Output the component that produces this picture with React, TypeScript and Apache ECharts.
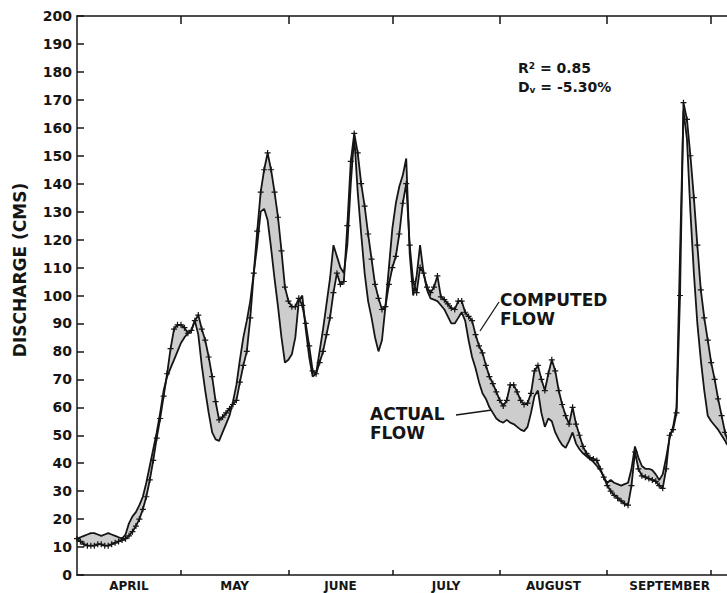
import React, { useEffect, useRef } from "react";
import * as echarts from "echarts";

// Month layout (days counted from April 1)
const monthNames = ["APRIL", "MAY", "JUNE", "JULY", "AUGUST", "SEPTEMBER"];
const monthStartDays = [30, 61, 91, 122, 153, 183];
const monthLabelDays = [15, 45.5, 76, 106.5, 137.5, 171];

// Daily discharge (CMS), April 1 onwards
const actualFlow = [
  13, 13.5, 14, 14.5, 15, 15, 14.5, 14, 14.5, 15,
  14.5, 14, 13.5, 13, 14.5, 18.5, 21, 22.5, 25, 28,
  33, 39, 45, 51, 58, 66, 71, 74, 77, 80,
  83, 85, 86.5, 87.5, 91, 86, 75, 66, 58, 51,
  48.5, 48, 51, 54, 57, 62, 68, 77, 85, 91,
  98, 108, 118, 130, 131, 127, 117, 106, 96, 85,
  76, 77, 79, 85, 98, 100, 88, 78, 71, 72,
  80, 88, 97, 106, 118, 114, 110, 108, 118, 140,
  157, 137, 122, 108, 98, 92, 85, 80, 84, 96,
  110, 124, 133, 139, 143, 149, 115, 100, 107, 118,
  108, 102, 99, 98.5, 98, 96.5, 95, 92.5, 90, 90,
  92, 94, 91, 84, 78, 74, 69, 65, 63, 60,
  58, 56, 55, 54.5, 55.5, 54.5, 54, 53, 52, 51.5,
  53, 58, 64, 66, 58, 53, 56, 55, 51, 48.5,
  46.5, 45.5, 48, 51, 47, 45, 43.5, 42.5, 41.5, 40.5,
  39, 37.5, 35, 33, 34, 33, 32.5, 32, 32.5, 33,
  38, 46, 42, 39, 38, 38, 37.5, 36, 34, 36,
  42, 49, 53, 60, 115, 166, 156, 130, 108, 90,
  77, 66, 57, 55, 53.5, 52, 50, 48, 46,
];

const computedFlow = [
  13, 12, 11, 10.5, 10.5, 10.5, 11, 11, 10.5, 10.5,
  11, 11.5, 12, 12.5, 13, 14, 15.5, 17.5, 20, 23.5,
  28, 34, 41, 49, 56, 64, 72, 81, 88, 89.5,
  89.5, 88.5, 86.5, 87.5, 91, 93, 88, 84, 78, 71,
  62, 55.5, 56.5, 58, 59.5, 61, 62.5, 69, 75, 80,
  92, 108, 123, 137, 145, 151, 145, 137, 128, 116,
  103, 98, 96, 96, 99, 96.5, 90, 82, 73, 72,
  76, 80, 86, 92, 101, 108, 104, 105, 125, 148,
  158, 151, 140, 132, 122, 113, 104, 99, 95, 96,
  104, 110, 114, 122, 133, 140, 118, 105, 101, 110,
  108, 103, 101, 103, 107, 99.5, 98.5, 97, 95.5, 95,
  98, 98, 94, 92.5, 91, 86, 82, 79.5, 75, 71,
  68.5, 65.5, 62.5, 60.5, 62.5, 68, 68, 65.5, 62.5, 61,
  61.5, 65, 73, 75, 70, 66, 72, 77, 73, 66,
  61, 57, 54, 60, 54, 50, 46, 43.5, 42, 41.5,
  41, 38, 35, 32, 30, 28.5, 27.5, 26.5, 25.5, 25,
  32, 44, 38, 35.5, 35, 34.5, 34, 33.5, 32, 31,
  38, 50, 52, 58, 100, 169, 163, 150, 135, 118,
  102, 92, 84, 76, 70, 63, 57, 51, 47,
];

const FONT = '"DejaVu Sans", "Liberation Sans", sans-serif';
const INK = "#151515";

export default function App() {
  const ref = useRef<HTMLDivElement>(null);

  useEffect(() => {
    const chart = echarts.init(ref.current!, null, { renderer: "svg" });
    const toPairs = (arr: number[]) => arr.map((v, i) => [i, v]);
    const plus = "path://M4,0H6V4H10V6H6V10H4V6H0V4H4Z";

    const axisCommon = {
      type: "value" as const,
      min: 0,
      max: 189,
      splitLine: { show: false },
      axisLine: { show: true, lineStyle: { color: INK, width: 1.5 } },
    };

    const textLine = (text: string, x: number, y: number, size: number) => ({
      type: "text",
      x,
      y,
      style: {
        text,
        fontFamily: FONT,
        fontWeight: "bold",
        fontSize: size,
        fill: INK,
        textVerticalAlign: "middle",
        verticalAlign: "middle",
      },
    });

    chart.setOption({
      animation: false,
      backgroundColor: "#ffffff",
      grid: { left: 77, top: 16, right: 28, bottom: 18, containLabel: false },
      xAxis: [
        {
          ...axisCommon,
          position: "bottom",
          axisTick: {
            show: true,
            inside: true,
            length: 5,
            customValues: monthStartDays,
            lineStyle: { color: INK, width: 1.5 },
          },
          axisLabel: {
            show: true,
            customValues: monthLabelDays,
            formatter: (v: number) => {
              const i = monthLabelDays.findIndex((d) => Math.abs(d - v) < 0.01);
              return i >= 0 ? monthNames[i] : "";
            },
            fontFamily: FONT,
            fontWeight: "bold",
            fontSize: 12,
            color: INK,
            margin: 5,
          },
        },
        {
          ...axisCommon,
          position: "top",
          axisTick: {
            show: true,
            inside: true,
            length: 8,
            customValues: monthStartDays,
            lineStyle: { color: INK, width: 1.5 },
          },
          axisLabel: { show: false },
        },
      ],
      yAxis: {
        type: "value",
        min: 0,
        max: 200,
        interval: 10,
        splitLine: { show: false },
        axisLine: { show: true, lineStyle: { color: INK, width: 1.5 } },
        axisTick: { show: true, inside: true, length: 7, lineStyle: { color: INK, width: 1.5 } },
        axisLabel: {
          fontFamily: FONT,
          fontWeight: "bold",
          fontSize: 14,
          color: INK,
          margin: 5,
        },
      },
      series: [
        {
          name: "difference",
          type: "custom",
          data: [[0, 0]],
          silent: true,
          z: 1,
          renderItem: (_params: any, api: any) => {
            const pts: number[][] = [];
            for (let i = 0; i < actualFlow.length; i++) {
              pts.push(api.coord([i, Math.max(actualFlow[i], computedFlow[i])]));
            }
            for (let i = actualFlow.length - 1; i >= 0; i--) {
              pts.push(api.coord([i, Math.min(actualFlow[i], computedFlow[i])]));
            }
            return {
              type: "polygon",
              shape: { points: pts },
              style: { fill: "#cdcdcd", stroke: "none" },
            };
          },
        },
        {
          name: "ACTUAL FLOW",
          type: "line",
          data: toPairs(actualFlow),
          symbol: "none",
          lineStyle: { color: INK, width: 1.8 },
          z: 3,
        },
        {
          name: "COMPUTED FLOW",
          type: "line",
          data: toPairs(computedFlow),
          symbol: plus,
          symbolSize: 6,
          showAllSymbol: true,
          itemStyle: { color: INK },
          lineStyle: { color: INK, width: 1.8 },
          z: 4,
        },
      ],
      graphic: [
        {
          type: "text",
          x: 20,
          y: 270,
          rotation: Math.PI / 2,
          style: {
            text: "DISCHARGE (CMS)",
            fontFamily: FONT,
            fontWeight: "bold",
            fontSize: 17,
            fill: INK,
            textAlign: "center",
            textVerticalAlign: "middle",
            align: "center",
            verticalAlign: "middle",
          },
        },
        {
          type: "text",
          x: 518,
          y: 68,
          style: {
            text: "R{sup|2} = 0.85",
            fontFamily: FONT,
            fontWeight: "bold",
            fontSize: 14,
            fill: INK,
            textVerticalAlign: "middle",
            verticalAlign: "middle",
            rich: {
              sup: { fontFamily: FONT, fontWeight: "bold", fontSize: 9, verticalAlign: "top", fill: INK },
            },
          },
        },
        {
          type: "text",
          x: 518,
          y: 87,
          style: {
            text: "D{sub|v} = -5.30%",
            fontFamily: FONT,
            fontWeight: "bold",
            fontSize: 14,
            fill: INK,
            textVerticalAlign: "middle",
            verticalAlign: "middle",
            rich: {
              sub: { fontFamily: FONT, fontWeight: "bold", fontSize: 9, verticalAlign: "bottom", fill: INK },
            },
          },
        },
        textLine("COMPUTED", 500, 300, 17),
        textLine("FLOW", 500, 319, 17),
        textLine("ACTUAL", 370, 414, 17),
        textLine("FLOW", 370, 433, 17),
        {
          type: "line",
          shape: { x1: 499, y1: 302, x2: 480, y2: 331 },
          style: { stroke: INK, lineWidth: 1.3 },
        },
        {
          type: "line",
          shape: { x1: 456, y1: 415, x2: 492, y2: 410 },
          style: { stroke: INK, lineWidth: 1.3 },
        },
      ],
    });

    return () => chart.dispose();
  }, []);

  return (
    <div
      style={{
        position: "fixed",
        left: 0,
        top: 0,
        width: 727,
        height: 593,
        overflow: "hidden",
        background: "#ffffff",
      }}
    >
      <div ref={ref} style={{ width: 760, height: 593 }} />
    </div>
  );
}
